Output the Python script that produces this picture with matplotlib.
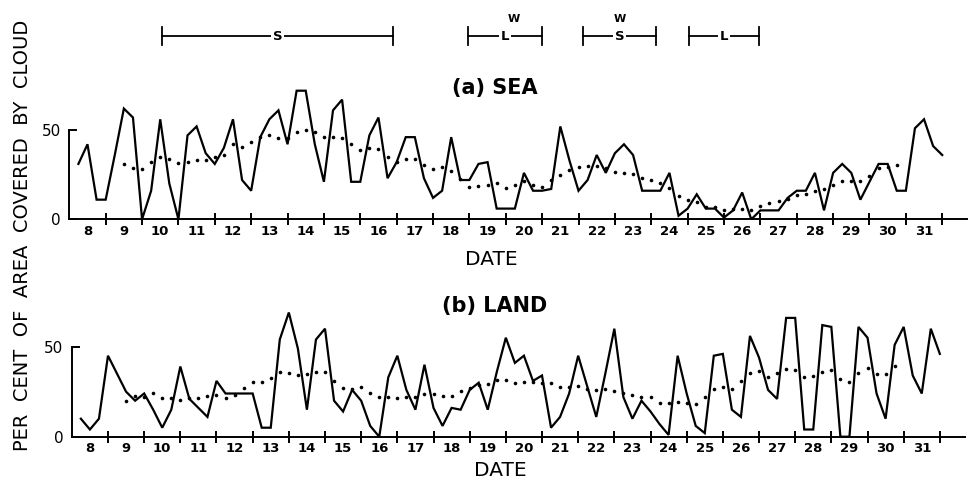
import numpy as np
import matplotlib.pyplot as plt

# cloud cover every 6 h, starting 06Z on the 8th
sea_cloud = [31, 42, 11, 11, 36, 62, 57, 0, 16, 56, 20, 0, 47, 52, 37, 31, 40, 56, 22, 16,
             46, 56, 61, 42, 72, 72, 42, 21, 61, 67, 21, 21, 47, 57, 23, 32, 46, 46, 23, 12,
             16, 46, 22, 22, 31, 32, 6, 6, 6, 26, 16, 16, 17, 52, 33, 16, 22, 36, 26, 37,
             42, 36, 16, 16, 16, 26, 2, 6, 14, 6, 6, 1, 5, 15, 0, 5, 5, 5, 12, 16,
             16, 26, 5, 26, 31, 26, 11, 21, 31, 31, 16, 16, 51, 56, 41, 36]
land_cloud = [10, 4, 10, 45, 35, 25, 20, 24, 15, 5, 15, 39, 21, 16, 11, 31, 24, 24, 24, 24,
              5, 5, 54, 69, 49, 15, 54, 60, 20, 14, 26, 20, 6, 0, 33, 45, 26, 15, 40, 16,
              6, 16, 15, 26, 30, 15, 36, 55, 41, 45, 31, 34, 5, 11, 24, 45, 28, 11, 35, 60,
              22, 10, 20, 14, 7, 1, 45, 24, 6, 2, 45, 46, 15, 11, 56, 44, 26, 21, 66, 66,
              4, 4, 62, 61, 0, 0, 61, 55, 24, 10, 51, 61, 34, 24, 60, 46]

# running means, from 12Z on the 9th to 18Z on the 30th
sea_mean = [30.8, 28.5, 28, 32.3, 34.7, 33.6, 31.7, 32.3, 33.2, 33.2, 34.7, 36, 42, 40.7, 43.5,
            46.3, 47.2, 45.3, 45.3, 49, 50, 49, 46.3, 46.3, 45.3, 42, 38.8, 39.7, 39.2, 35,
            32.3, 33.6, 33.6, 30.4, 28, 29.5, 27.2, 22.4, 18.3, 18.7, 19.2, 20.2, 17.4, 19.2, 21.5,
            19.2, 17.9, 22, 24.8, 27.6, 29.1, 29.9, 29.9, 28.5, 26.7, 25.8, 25.4, 23.3, 22, 20.2,
            17.4, 13.1, 11, 9.6, 6.9, 6.9, 5, 5.5, 6, 5.4, 7.3, 9.3, 10, 11.6, 13.4,
            14.4, 15.7, 17.2, 19, 21.3, 21.3, 21.3, 24.3, 28.7, 29.3, 30.2]
land_mean = [19.8, 22.6, 22.2, 24.1, 21.3, 21.3, 20.4, 21.3, 21.7, 22.6, 23.1, 21.3, 23.1, 27.2, 30.6,
             30.6, 32.8, 36.1, 35.2, 34.3, 34.6, 36.1, 36.1, 31.1, 26.9, 26.3, 27.4, 24.1, 22.2, 22.2,
             21.3, 21.9, 22.2, 23.7, 23.7, 22.6, 22.6, 25.6, 26.9, 28.7, 29.3, 31.5, 31.5, 30, 30.6,
             30.6, 30, 29.6, 27.8, 27.8, 28.2, 26.3, 25.9, 26.3, 25.6, 24.4, 23.1, 22.2, 21.9, 18.5,
             18.9, 19.4, 18.9, 18.3, 22.2, 26.3, 27.8, 26.3, 31.1, 35.2, 36.7, 33.3, 35.2, 37.6, 37,
             33, 33.7, 36.1, 37, 31.9, 30.6, 35.2, 38, 34.8, 34.8, 39.3]

days = list(range(8, 32))

# breeze periods shown above the sea panel
breeze_start = [10.55, 18.97, 22.11, 25.05]
breeze_end = [16.9, 20.99, 24.14, 26.95]
breeze_type = ["S", "L", "S", "L"]
breeze_weak = [False, True, True, False]

obs_time = 8.25 + 0.25 * np.arange(len(sea_cloud))
mean_time = obs_time[5:5 + len(sea_mean)]

fig = plt.figure(figsize=(9.68, 4.8), dpi=100)
ax_sea = fig.add_axes([0.0716, 0.5431, 0.9277, 0.2977])
ax_land = fig.add_axes([0.0742, 0.0902, 0.9225, 0.3])


def draw_panel(ax, cloud, mean, title, title_y, date_x, date_y):
    ax.plot(obs_time, cloud, color="black", lw=1.6, solid_joinstyle="miter")
    ax.plot(mean_time, mean, ls="none", marker="o", ms=2.6, color="black", mew=0)
    ax.set_xlim(8, 32.69)
    ax.set_ylim(0, 80)
    for side in ["top", "right"]:
        ax.spines[side].set_visible(False)
    ax.spines["left"].set_bounds(0, 50)
    ax.spines["left"].set_linewidth(1.4)
    ax.spines["bottom"].set_linewidth(1.4)

    ax.set_xticks(range(9, 33))
    ax.set_xticklabels([])
    ax.set_xticks([d + 0.5 for d in days], minor=True)
    ax.set_xticklabels([str(d) for d in days], minor=True, fontsize=9.5, fontweight="bold")
    ax.tick_params(axis="x", which="major", direction="inout", length=9, width=1.4)
    ax.tick_params(axis="x", which="minor", length=0, pad=4)

    ax.set_yticks([0, 50])
    ax.set_yticklabels(["0", "50"], fontsize=11)
    ax.tick_params(axis="y", direction="in", length=6, width=1.4, pad=6)

    ax.text(19.7, title_y, title, ha="center", va="center", fontsize=15,
            fontweight="bold", clip_on=False)
    ax.text(date_x, date_y, "DATE", ha="center", va="center", fontsize=14.5, clip_on=False)


draw_panel(ax_sea, sea_cloud, sea_mean, "(a) SEA", 73.5, 19.6, -22.5)
draw_panel(ax_land, land_cloud, land_mean, "(b) LAND", 72.6, 19.85, -18.5)

# breeze period bars
bar_y = 102.6
for x0, x1, kind, weak in zip(breeze_start, breeze_end, breeze_type, breeze_weak):
    ax_sea.plot([x0, x1], [bar_y, bar_y], color="black", lw=1.3, clip_on=False)
    for xe in (x0, x1):
        ax_sea.plot([xe, xe], [bar_y - 5, bar_y + 5], color="black", lw=1.3, clip_on=False)
    xm = (x0 + x1) / 2
    ax_sea.text(xm, bar_y, kind, ha="center", va="center", fontsize=9.5, fontweight="bold",
                bbox=dict(facecolor="white", edgecolor="none", pad=1.5), clip_on=False)
    if weak:
        ax_sea.text(xm + (0.25 if kind == "L" else 0), bar_y + 9.5, "W", ha="center",
                    va="center", fontsize=8, fontweight="bold", clip_on=False)

fig.text(23 / 968, (480 - 235) / 480, "PER  CENT  OF  AREA  COVERED  BY  CLOUD",
         rotation=90, ha="center", va="center", fontsize=14)

fig.savefig("out.png", dpi=100, facecolor="white")
